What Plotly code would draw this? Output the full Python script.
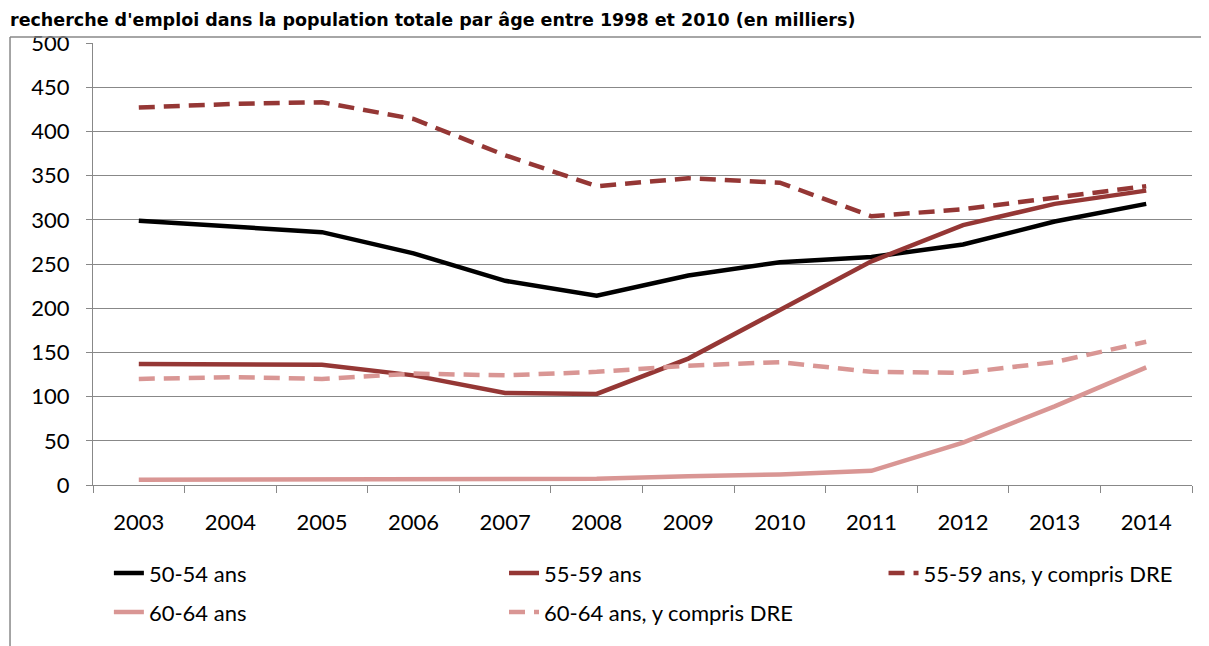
import plotly.graph_objects as go

years = ["2003", "2004", "2005", "2006", "2007", "2008",
         "2009", "2010", "2011", "2012", "2013", "2014"]

ans_50_54 = [299, 293, 286, 262, 231, 214, 237, 252, 258, 272, 298, 318]
ans_55_59 = [137, 136, 136, 124, 104, 103, 143, 198, 253, 294, 318, 333]
ans_55_59_dre = [427, 431, 433, 414, 373, 338, 347, 342, 304, 312, 325, 338]
ans_60_64 = [6, 6, 6, 6, 6, 7, 10, 12, 16, 48, 89, 133]
ans_60_64_dre = [120, 122, 120, 126, 124, 128, 135, 139, 128, 127, 139, 162]

title = "recherche d'emploi dans la population totale par âge entre 1998 et 2010 (en milliers)"

BLACK = "#000000"
DARK_RED = "#953735"
PINK = "#D99694"
GRID = "#888888"
FONT = "Lato, Open Sans, sans-serif"

# name, values, colour, dash
series = [
    ("50-54 ans", ans_50_54, BLACK, "solid"),
    ("55-59 ans", ans_55_59, DARK_RED, "solid"),
    ("55-59 ans, y compris DRE", ans_55_59_dre, DARK_RED, "16px,9px"),
    ("60-64 ans", ans_60_64, PINK, "solid"),
    ("60-64 ans, y compris DRE", ans_60_64_dre, PINK, "16px,9px"),
]

# one legend box per entry, laid out as the 3 + 2 grid of the original
legend_pos = [(0.084, 0.114), (0.413, 0.114), (0.729, 0.114),
              (0.084, 0.053), (0.413, 0.053)]

fig = go.Figure()
legends = {}
for i, (name, vals, color, dash) in enumerate(series):
    key = "legend" if i == 0 else f"legend{i + 1}"
    fig.add_trace(go.Scatter(
        x=years, y=vals, name=name, mode="lines", legend=key,
        line=dict(color=color, width=4.5, dash=dash),
    ))
    lx, ly = legend_pos[i]
    legends[key] = dict(
        orientation="h", xref="container", yref="container",
        x=lx, y=ly, xanchor="left", yanchor="middle",
        font=dict(size=22), bgcolor="rgba(0,0,0,0)",
    )

# page has an 8px body margin, so the figure is 8px smaller than the window
fig.update_layout(
    width=1201, height=638,
    margin=dict(l=85, r=17, t=35, b=161, autoexpand=False),
    plot_bgcolor="white", paper_bgcolor="white",
    font=dict(family=FONT, size=22, color="black"),
    showlegend=True,
    **legends,
)

fig.update_xaxes(
    type="category", showgrid=False, range=[-0.5, 11.5],
    showline=True, linecolor=GRID, linewidth=1,
    ticks="outside", tickson="boundaries", ticklen=7, tickcolor=GRID,
    ticklabelstandoff=18,
    tickfont=dict(size=22),
)
fig.update_yaxes(
    range=[0, 500], dtick=50,
    showgrid=True, gridcolor=GRID, gridwidth=1,
    showline=True, linecolor=GRID, linewidth=1,
    ticks="outside", ticklen=6, tickcolor=GRID,
    ticklabelstandoff=12,
    tickfont=dict(size=22), zeroline=False,
)

# outer chart frame (left and top edges, clipped in the original)
fig.add_shape(type="line", xref="paper", yref="paper",
              x0=-0.0755, x1=-0.0755, y0=1.0136, y1=-0.5,
              line=dict(color=GRID, width=1.5))
fig.add_shape(type="line", xref="paper", yref="paper",
              x0=-0.0755, x1=1.1, y0=1.0136, y1=1.0136,
              line=dict(color=GRID, width=1.5))

fig.add_annotation(
    text="<b>" + title + "</b>", xref="paper", yref="paper",
    x=-0.0773, y=1.079, xanchor="left", yanchor="top",
    showarrow=False, font=dict(size=17.5, family="DejaVu Sans"),
)

fig.write_html("out.html")
